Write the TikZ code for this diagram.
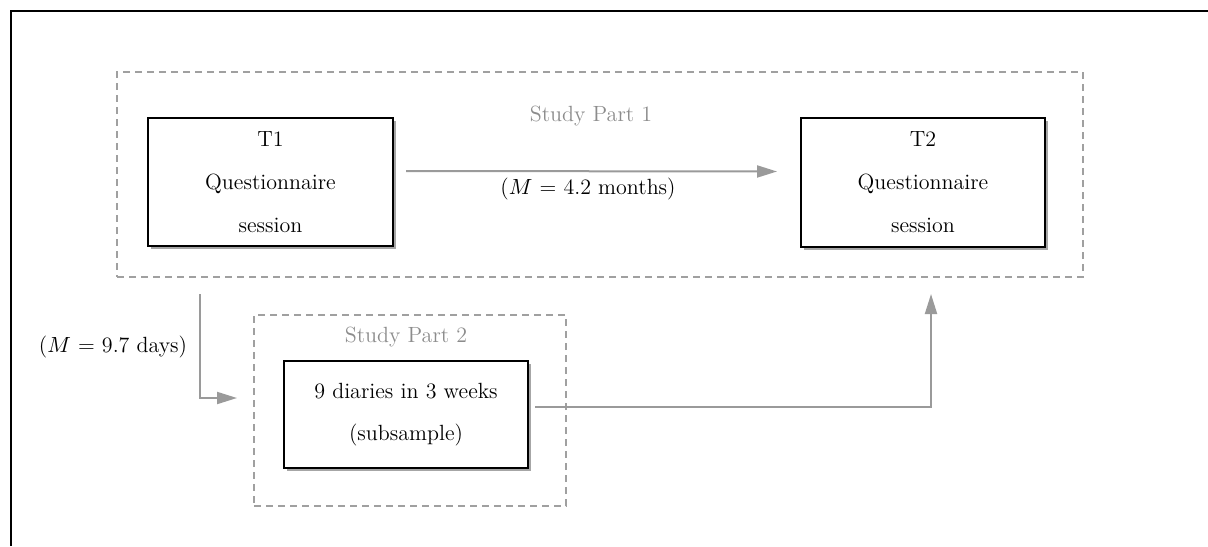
\documentclass[tikz,border=0pt]{standalone}
\usetikzlibrary{arrows.meta,shadows}
\definecolor{dashgray}{HTML}{A0A0A0}
\definecolor{arrgray}{HTML}{9A9A9A}
\definecolor{labgray}{HTML}{8C8C8C}
\tikzset{
  every node/.style={font=\fontsize{11}{13}\selectfont},
  box/.style={draw, line width=1pt, fill=white, align=center, inner sep=0pt,
    general shadow={fill=black!35, shadow xshift=1.5pt, shadow yshift=-1.5pt}},
  group/.style={draw=dashgray, dash pattern=on 3.5pt off 2.5pt, line width=1pt, inner sep=0pt},
  conn/.style={draw=arrgray, line width=1pt, -{Triangle[length=10pt,width=6pt]}},
}
\begin{document}
\begin{tikzpicture}[x=0.5pt, y=-0.5pt]
\useasboundingbox (0,0) rectangle (1208,546);
\draw[line width=1pt] (11,546) -- (11,11) -- (1208,11);
% dashed study parts
\node[group, minimum width=483pt, minimum height=102.5pt] (part1) at (600,174.5) {};
\node[group, minimum width=156pt, minimum height=95.5pt] (part2) at (410,410.5) {};
\node[text=labgray] (lab1) at (591,116) {Study Part 1};
\node[text=labgray] (lab2) at (406,337) {Study Part 2};
% boxes
\node[box, minimum width=122.5pt, minimum height=64pt] (t1) at (270.5,182) {T1\\[8.5pt]Questionnaire\\[8.5pt]session};
\node[box, minimum width=122pt, minimum height=64.5pt] (t2) at (923,182.5) {T2\\[8.5pt]Questionnaire\\[8.5pt]session};
\node[box, minimum width=122pt, minimum height=53.5pt] (diary) at (406,414.5) {9 diaries in 3 weeks\\[8pt](subsample)};
% connectors
\draw[conn] ([xshift=6pt,yshift=5.5pt]t1.east) -- ([xshift=-11.5pt,yshift=5.5pt]t2.west);
\node (gap1) at (588,189) {($M$ = 4.2 months)};
\coordinate (d1) at ([xshift=41.85pt,yshift=-8pt]part1.south west);
\draw[conn] (d1) |- ([xshift=-8pt,yshift=6.25pt]part2.west);
\node (gap2) at (113,347) {($M$ = 9.7 days)};
\draw[conn] ([xshift=3pt,yshift=3.75pt]diary.east) -| ([xshift=4pt,yshift=-23pt]t2.south);
\end{tikzpicture}
\end{document}
